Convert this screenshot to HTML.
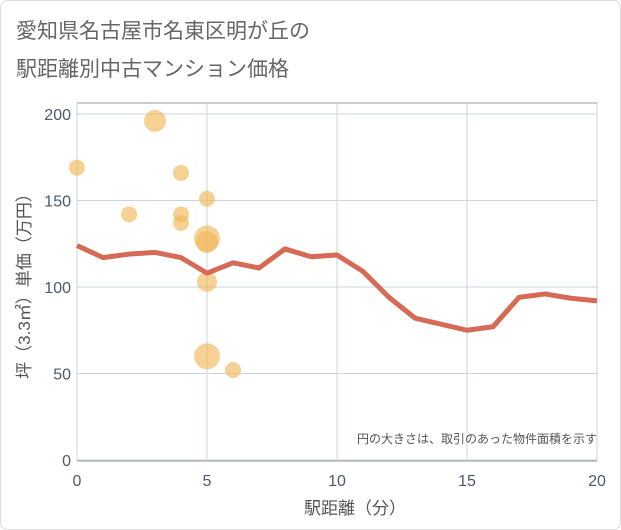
<!DOCTYPE html>
<html><head><meta charset="utf-8"><style>
body{margin:0;background:#fff;font-family:"Liberation Sans","Noto Sans CJK JP",sans-serif;}
.wrap{position:absolute;left:0;top:0;width:619px;height:528px;border:1px solid #ddd;border-radius:8px;background:#fff;}
</style></head><body>
<div class="wrap">
<svg width="621" height="530" style="position:absolute;left:-1px;top:-1px">
<text x="16" y="38" font-size="21" fill="#666">愛知県名古屋市名東区明が丘の</text>
<text x="16" y="76" font-size="21" fill="#666">駅距離別中古マンション価格</text>
<rect x="77" y="103" width="520" height="358" fill="#fff" stroke="#999"/>
<g id="grid"></g>
<g id="bubbles"></g>
<path id="line" fill="none" stroke="#d66a55" stroke-width="5" stroke-linejoin="round"/>
<g id="ticks"></g>
<text x="597" y="443" font-size="12" fill="#555" text-anchor="end">円の大きさは、取引のあった物件面積を示す</text>
<text x="355" y="514" font-size="17" fill="#555" text-anchor="middle">駅距離（分）</text>
<text transform="translate(30,282) rotate(-90)" font-size="17" fill="#555" text-anchor="middle">坪（3.3㎡）単価（万円）</text>
</svg></div>
<script>
const xTicks=[0,5,10,15,20];
const yTicks=[0,50,100,150,200];
const lineX=[0,1,2,3,4,5,6,7,8,9,10,11,12,13,14,15,16,17,18,19,20];
const lineY=[124,117,119,120,117,108,114,111,122,117.5,118.5,109,94,82,78.5,75,77,94,96,93.5,92];
const bubX=[0,3,4,2,4,4,5,5,5,5,5,6];
const bubY=[169,196,166,142,142,137,151,128,126,103,60,52];
const bubR=[8,11,8,8,8,8,8,13,11,10,13,8];
const NS="http://www.w3.org/2000/svg";
const sx=v=>77+v*26, sy=v=>460-v*1.73;
function mk(t,a,p){const e=document.createElementNS(NS,t);for(const k in a)e.setAttribute(k,a[k]);p.appendChild(e);return e;}
const g=document.getElementById('grid'),tk=document.getElementById('ticks'),bb=document.getElementById('bubbles');
xTicks.forEach(v=>{
 const l=mk('line',{x1:sx(v),x2:sx(v),y1:103,y2:461,stroke:'#c8d4e0'},g);
 
 
 const t=mk('text',{x:sx(v),y:486,'font-size':16,fill:'#4a5a6a','text-anchor':'middle'},tk);t.textContent=v;
 
 
});
yTicks.forEach(v=>{
 const l=mk('line',{x1:77,x2:597,y1:sy(v),y2:sy(v),stroke:'#c8d4e0'},g);
 
 
 const t=mk('text',{x:71,y:sy(v)+6,'font-size':16,fill:'#4a5a6a','text-anchor':'end'},tk);t.textContent=v;
 
 
});
bubX.forEach((x,i)=>{
 const c=mk('circle',{cx:sx(x),cy:sy(bubY[i]),r:bubR[i],fill:'#f0b95a','fill-opacity':0.65},bb);
 
 
});
document.getElementById('line').setAttribute('d',lineX.map((x,i)=>(i?'L':'M')+sx(x)+','+sy(lineY[i])).join(''));
</script>
</body></html>
